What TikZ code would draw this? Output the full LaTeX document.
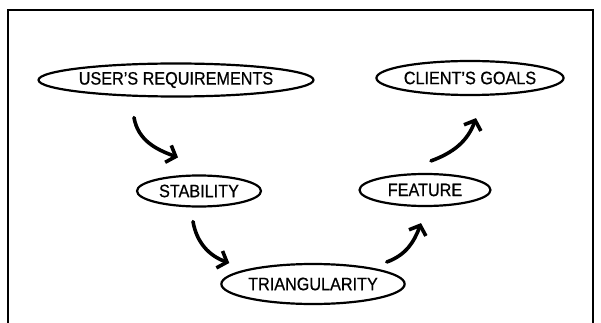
\documentclass[tikz,border=0pt]{standalone}
\usepackage{fontspec}
\setmainfont{Liberation Sans}[FakeStretch=0.9,FakeBold=0.6]
\usetikzlibrary{shapes.geometric,arrows.meta}

\begin{document}
\begin{tikzpicture}[x=1pt,y=-1pt,
  stage/.style={ellipse, draw, line width=2.2pt, inner sep=0pt, font=\fontsize{18}{20}\selectfont},
  flow/.style={line width=3.6pt, line cap=round, -{Straight Barb[length=8pt,width=18pt,line width=3.6pt]}}]
\useasboundingbox (0,0) rectangle (601,323);

% Draw the open frame
\draw[line width=1.2pt] (8,323) -- (8,10) -- (593,10) -- (593,323);

% Draw the stages
\node[stage, minimum width=227pt, minimum height=33pt] (req) at (176,80) {USER'S REQUIREMENTS};
\node[stage, minimum width=186pt, minimum height=34pt] (goals) at (470,78) {CLIENT'S GOALS};
\node[stage, minimum width=124pt, minimum height=31pt] (stab) at (199,191) {STABILITY};
\node[stage, minimum width=131pt, minimum height=32pt] (feat) at (425,190) {FEATURE};
\node[stage, minimum width=175pt, minimum height=40pt] (tri) at (313,284) {TRIANGULARITY};

% Draw the curved arrows
\draw[flow] ([xshift=-42pt,yshift=-20pt]req.south) to[out=-80,in=160] ([xshift=-21pt,yshift=17pt]stab.north);
\draw[flow] ([xshift=-6pt,yshift=-14pt]stab.south) to[out=-80,in=160] ([xshift=9pt,yshift=21pt]tri.west);
\draw[flow] ([xshift=-19pt,yshift=22pt]tri.east) to[out=20,in=-110] ([xshift=-4pt,yshift=-16pt]feat.south);
\draw[flow] ([xshift=6pt,yshift=12pt]feat.north) to[out=20,in=-110] ([xshift=6pt,yshift=-22pt]goals.south);
\end{tikzpicture}
\end{document}
